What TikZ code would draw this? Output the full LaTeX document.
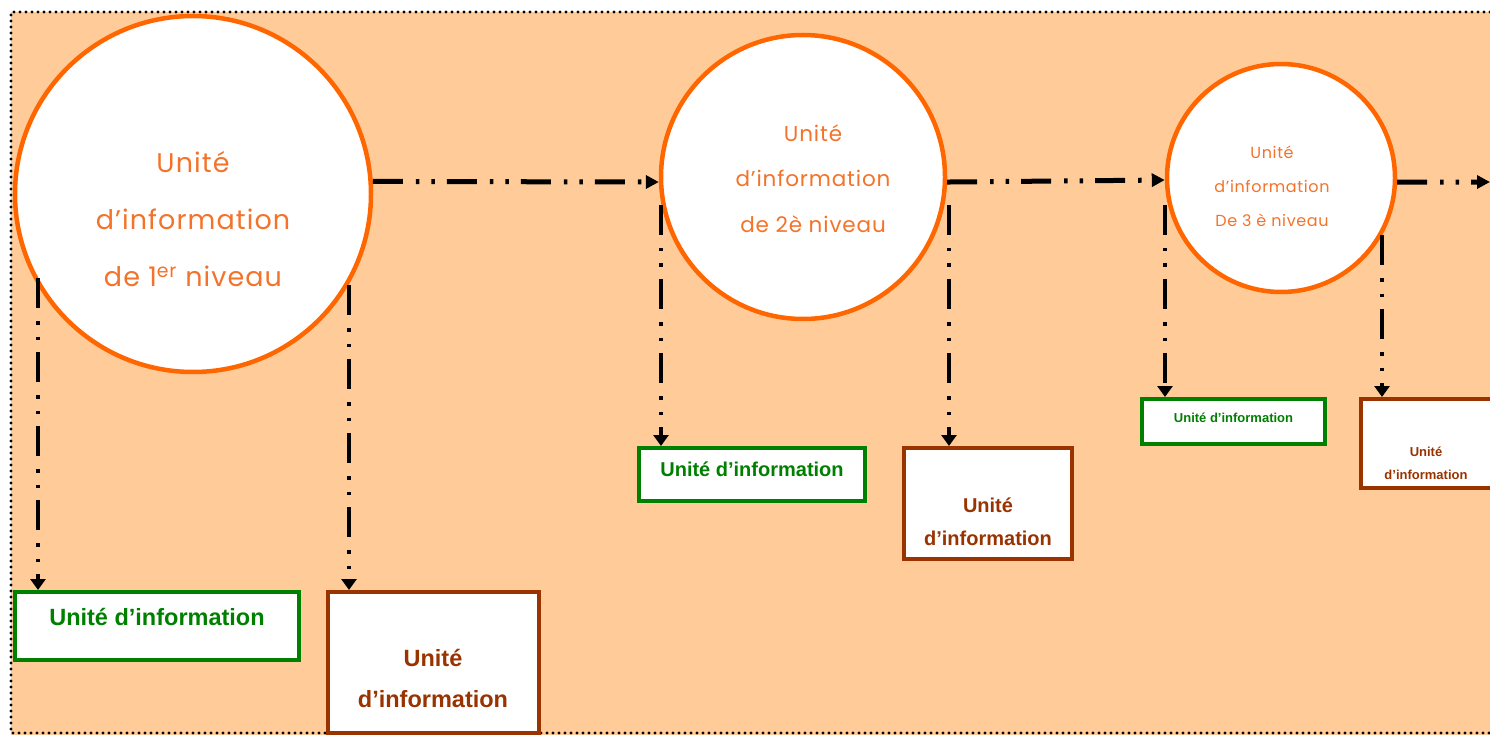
\documentclass[tikz,border=0pt]{standalone}
\usepackage{fontspec}
\setmainfont{Liberation Sans}
\newfontfamily\circfont[LetterSpace=4]{Poppins}
\usetikzlibrary{arrows.meta}
\definecolor{peach}{HTML}{FFCC99}
\definecolor{orng}{HTML}{FF6600}
\definecolor{ctext}{HTML}{F4732A}
\definecolor{grn}{HTML}{008000}
\definecolor{brn}{HTML}{993300}
\tikzset{
  circ/.style={circle, draw=orng, fill=white, line width=4.5pt, inner sep=0pt},
  gbox/.style={rectangle, draw=grn, fill=white, line width=4pt, inner sep=0pt},
  bbox/.style={rectangle, draw=brn, fill=white, line width=4pt, inner sep=0pt},
  ctxt/.style={text=ctext, inner sep=0pt, anchor=base},
  gtxt/.style={text=grn, font=\bfseries, inner sep=0pt, anchor=base},
  btxt/.style={text=brn, font=\bfseries, inner sep=0pt, anchor=base},
  dda/.style={line width=5pt, dash pattern=on 30pt off 13pt on 3.5pt off 12pt on 3.5pt off 12pt, -{Triangle[length=13pt,width=13pt]}},
  ddv/.style={line width=4.5pt, dash pattern=on 30pt off 13pt on 3.5pt off 12pt on 3.5pt off 12pt, -{Triangle[length=11pt,width=15pt]}},
  frame/.style={line width=3.2pt, line cap=round, dash pattern=on 0pt off 6pt}
}
\begin{document}
\begin{tikzpicture}[x=1pt,y=-1pt]
\useasboundingbox (0,0) rectangle (1490,735);
\fill[peach] (11,12) rectangle (1490,735);
\draw[frame] (1490,12) -- (11,12) -- (11,733) -- (1490,733);

% circles
\node[circ, minimum size=356pt] (c1) at (193,194) {};
\node[circ, minimum size=284pt] (c2) at (803,177) {};
\node[circ, minimum size=228pt] (c3) at (1281,178) {};

% circle texts
\node[ctxt, font=\circfont\fontsize{27}{30}\selectfont] (c1a) at (193,173) {Unité};
\node[ctxt, font=\circfont\fontsize{27}{30}\selectfont] (c1b) at (193,230) {d’information};
\node[ctxt, font=\circfont\fontsize{27}{30}\selectfont] (c1c) at (193,287) {de 1\textsuperscript{er} niveau};
\node[ctxt, font=\circfont\fontsize{21.5}{24}\selectfont] (c2a) at (813,142) {Unité};
\node[ctxt, font=\circfont\fontsize{21.5}{24}\selectfont] (c2b) at (813,187) {d’information};
\node[ctxt, font=\circfont\fontsize{21.5}{24}\selectfont] (c2c) at (813,233) {de 2è niveau};
\node[ctxt, font=\circfont\fontsize{16}{19}\selectfont] (c3a) at (1272,159) {Unité};
\node[ctxt, font=\circfont\fontsize{16}{19}\selectfont] (c3b) at (1272,193) {d’information};
\node[ctxt, font=\circfont\fontsize{16}{19}\selectfont] (c3c) at (1272,227) {De 3 è niveau};

% boxes
\node[gbox, minimum width=284pt, minimum height=68pt] (g1) at (157,626) {};
\node[bbox, minimum width=211pt, minimum height=141pt] (b1) at (433.5,662.5) {};
\node[gbox, minimum width=226pt, minimum height=53pt] (g2) at (752,474.5) {};
\node[bbox, minimum width=168pt, minimum height=111pt] (b2) at (988,503.5) {};
\node[gbox, minimum width=183pt, minimum height=45pt] (g3) at (1233.5,421.5) {};
\node[bbox, minimum width=150pt, minimum height=89pt] (b3) at (1436,443.5) {};

% box texts
\node[gtxt, font=\bfseries\fontsize{23.5}{28}\selectfont] (g1t) at (157,625) {Unité d’information};
\node[btxt, font=\bfseries\fontsize{23.5}{28}\selectfont] (b1a) at (433,666) {Unité};
\node[btxt, font=\bfseries\fontsize{23.5}{28}\selectfont] (b1b) at (433,707) {d’information};
\node[gtxt, font=\bfseries\fontsize{20}{24}\selectfont] (g2t) at (752,476) {Unité d’information};
\node[btxt, font=\bfseries\fontsize{20}{24}\selectfont] (b2a) at (988,512) {Unité};
\node[btxt, font=\bfseries\fontsize{20}{24}\selectfont] (b2b) at (988,545) {d’information};
\node[gtxt, font=\bfseries\fontsize{13}{16}\selectfont] (g3t) at (1233.5,422) {Unité d’information};
\node[btxt, font=\bfseries\fontsize{13}{16}\selectfont] (b3a) at (1426,456) {Unité};
\node[btxt, font=\bfseries\fontsize{13}{16}\selectfont] (b3b) at (1426,479) {d’information};

% horizontal connectors
\coordinate (endr) at (1490,182);
\draw[dda] (c1.4) -- (c2.182);
\draw[dda] (c2.-2) -- (c3.181);
\draw[dda] (c3.-2) -- (endr);

% vertical connectors
\coordinate (s1) at (38,278);
\coordinate (s2) at (349,285);
\coordinate (s3) at (661,205);
\coordinate (s4) at (949,205);
\coordinate (s5) at (1165,205);
\coordinate (s6) at (1382,235);
\draw[ddv] (s1) -- (s1 |- g1.north);
\draw[ddv] (s2) -- (s2 |- b1.north);
\draw[ddv] (s3) -- (s3 |- g2.north);
\draw[ddv] (s4) -- (s4 |- b2.north);
\draw[ddv] (s5) -- (s5 |- g3.north);
\draw[ddv] (s6) -- (s6 |- b3.north);
\end{tikzpicture}
\end{document}
